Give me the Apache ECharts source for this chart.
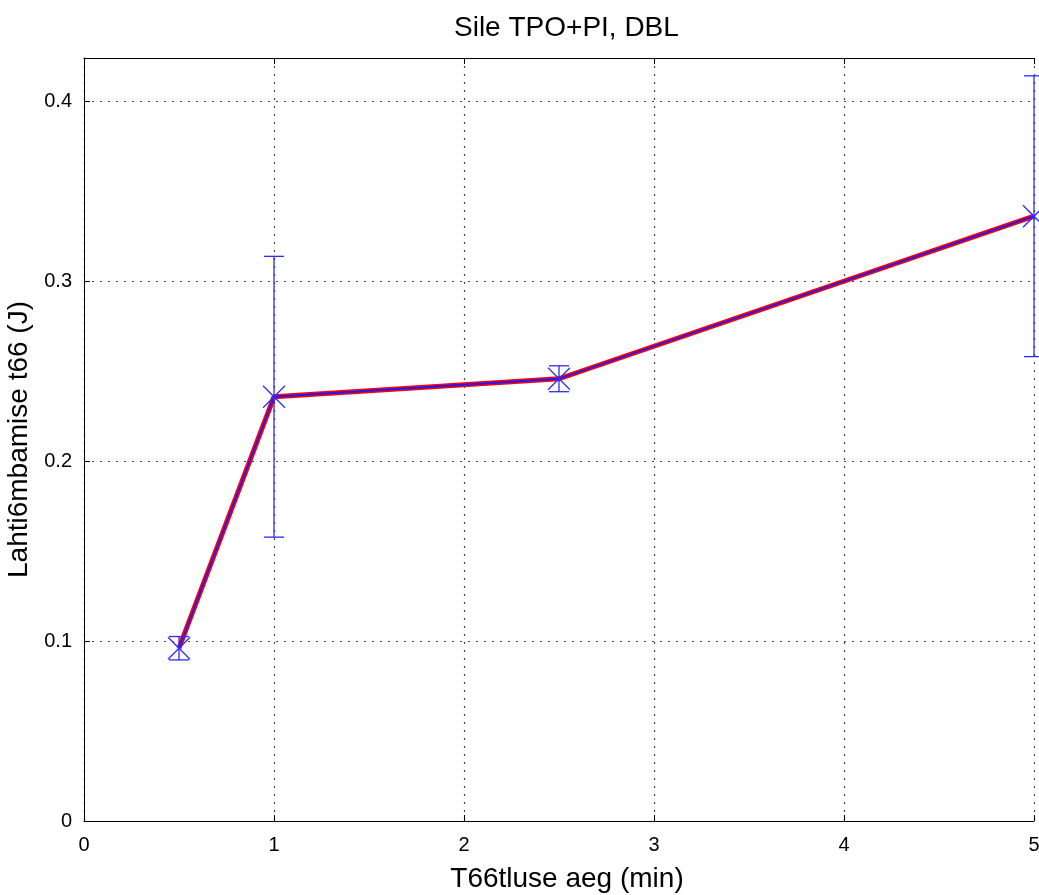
<!DOCTYPE html>
<html lang="en">
<head>
    <meta charset="UTF-8">
    <title>Sile TPO+PI, DBL</title>
    <style>
        html, body { margin: 0; padding: 0; background: #fff; }
    </style>
</head>
<body>
<script src="https://cdn.jsdelivr.net/npm/echarts@6/dist/echarts.min.js"></script>
<div id="main" style="width: 1039px;height:895px;"></div>

<script>
    var xData = [0.5, 1, 2.5, 5];
    var yData = [0.096, 0.2357, 0.2457, 0.336];
    var errData = [0.0065, 0.078, 0.0072, 0.078];
    var xTicks = [0, 1, 2, 3, 4, 5];
    var yTicks = [0, 0.1, 0.2, 0.3, 0.4];

    var myChart = echarts.init(document.getElementById('main'));

    var lineData = xData.map(function (x, i) { return [x, yData[i]]; });
    var errBars = xData.map(function (x, i) { return [x, yData[i], errData[i]]; });

    var fontFam = 'Liberation Sans, Arial, sans-serif';

    // error bars + x markers
    function renderErr(params, api) {
        var x = api.value(0), y = api.value(1), e = api.value(2);
        var top = api.coord([x, y + e]);
        var bot = api.coord([x, y - e]);
        var mid = api.coord([x, y]);
        var cw = 10, m = 11;
        var st = { stroke: '#2b2bff', lineWidth: 1.3 };
        var seg = function (x1, y1, x2, y2) {
            return { type: 'line', shape: { x1: x1, y1: y1, x2: x2, y2: y2 }, style: st };
        };
        return {
            type: 'group',
            children: [
                seg(top[0], top[1], bot[0], bot[1]),
                seg(top[0] - cw, top[1], top[0] + cw, top[1]),
                seg(bot[0] - cw, bot[1], bot[0] + cw, bot[1]),
                seg(mid[0] - m, mid[1] - m, mid[0] + m, mid[1] + m),
                seg(mid[0] - m, mid[1] + m, mid[0] + m, mid[1] - m)
            ]
        };
    }

    var option = {
        animation: false,
        title: {
            text: 'Sile TPO+PI, DBL',
            left: 454,
            top: 14,
            padding: 0,
            textStyle: { fontFamily: fontFam, fontSize: 28, fontWeight: 'normal', color: '#000' }
        },
        grid: { left: 84, top: 58, right: 5, bottom: 74, outerBoundsMode: 'none' },
        xAxis: [{
            type: 'value',
            min: 0, max: 5, interval: 1,
            name: 'T66tluse aeg (min)',
            nameLocation: 'middle',
            nameGap: 44,
            nameTextStyle: { fontFamily: fontFam, fontSize: 28, color: '#000', padding: [0, 0, 0, 16] },
            axisLine: { show: true, lineStyle: { color: '#000', width: 1 } },
            axisTick: { show: true, inside: true, length: 6, lineStyle: { color: '#000' } },
            axisLabel: {
                fontFamily: fontFam, fontSize: 20, color: '#000', margin: 14,
                formatter: function (v) { return xTicks.indexOf(v) >= 0 ? String(v) : ''; }
            },
            splitLine: { show: true, lineStyle: { color: '#444', type: [2, 6], width: 1.2 } }
        }, {
            type: 'value',
            position: 'top',
            min: 0, max: 5, interval: 1,
            axisLine: { show: true, lineStyle: { color: '#000', width: 1 } },
            axisTick: { show: true, inside: true, length: 6, lineStyle: { color: '#000' } },
            axisLabel: { show: false },
            splitLine: { show: false }
        }],
        yAxis: {
            type: 'value',
            min: 0, max: 0.4239, interval: 0.1,
            name: 'Lahti6mbamise t66 (J)',
            nameLocation: 'middle',
            nameGap: 46,
            nameTextStyle: { fontFamily: fontFam, fontSize: 28, color: '#000' },
            axisLine: { show: true, lineStyle: { color: '#000', width: 1 } },
            axisTick: { show: true, inside: true, length: 6, lineStyle: { color: '#000' } },
            axisLabel: {
                fontFamily: fontFam, fontSize: 20, color: '#000', margin: 12,
                showMaxLabel: false,
                formatter: function (v) {
                    var r = Math.round(v * 10) / 10;
                    return yTicks.indexOf(r) >= 0 ? String(r) : '';
                }
            },
            splitLine: { show: true, lineStyle: { color: '#444', type: [2, 6], width: 1.2 } }
        },
        series: [{
            type: 'line',
            data: lineData,
            symbol: 'none',
            lineStyle: { color: '#ff0000', width: 5 },
            z: 3
        }, {
            type: 'line',
            data: lineData,
            symbol: 'none',
            lineStyle: { color: '#1a1aff', width: 1.8 },
            z: 4
        }, {
            type: 'custom',
            renderItem: renderErr,
            data: errBars,
            encode: { x: 0, y: 1 },
            clip: false,
            z: 5
        }]
    };

    myChart.setOption(option);
</script>
</body>
</html>
